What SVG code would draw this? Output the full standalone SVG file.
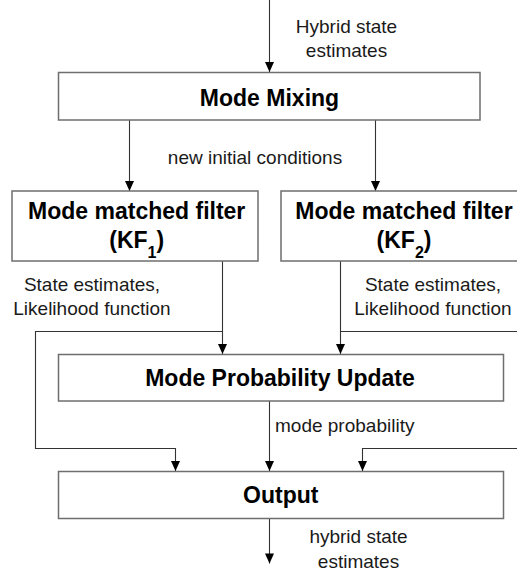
<svg xmlns="http://www.w3.org/2000/svg" width="517" height="572" viewBox="0 0 517 572">
<style>
.box{fill:#fff;stroke:#6e6e6e;stroke-width:1.5}
.ln{fill:none;stroke:#333;stroke-width:1.1}
.t{font-family:"Liberation Sans",Arial,sans-serif;font-size:19px;fill:#1a1a1a;text-anchor:middle}
.b{font-family:"Liberation Sans",Arial,sans-serif;font-size:23px;font-weight:bold;fill:#000;text-anchor:middle}
</style>
<defs>
<marker id="ah" markerUnits="userSpaceOnUse" markerWidth="12" markerHeight="12" refX="10" refY="0" orient="auto" overflow="visible">
<path d="M0,-4.5 L10,0 L0,4.5 z" fill="#000"/>
</marker>
</defs>
<g id="connectors">
<path class="ln" d="M269.5,0 V72" marker-end="url(#ah)"/>
<path class="ln" d="M129.5,120 V191" marker-end="url(#ah)"/>
<path class="ln" d="M375.5,120 V191" marker-end="url(#ah)"/>
<path class="ln" d="M222.5,261 V354" marker-end="url(#ah)"/>
<path class="ln" d="M340.5,261 V354" marker-end="url(#ah)"/>
<path class="ln" d="M222.5,331.5 H35.5 V448.5 H175.5 V471" marker-end="url(#ah)"/>
<path class="ln" d="M340.5,331.5 H530 V448.5 H362.5 V471" marker-end="url(#ah)"/>
<path class="ln" d="M269.5,401 V471" marker-end="url(#ah)"/>
<path class="ln" d="M269.5,518.5 V563.5" marker-end="url(#ah)"/>
<text class="t" x="346.5" y="32.7">Hybrid state</text>
<text class="t" x="346.5" y="57.3">estimates</text>
<text class="t" x="255" y="163.5">new initial conditions</text>
<text class="t" x="92" y="290.7">State estimates,</text>
<text class="t" x="92" y="315">Likelihood function</text>
<text class="t" x="433" y="290.7">State estimates,</text>
<text class="t" x="433" y="315">Likelihood function</text>
<text class="t" x="275" y="431.7" style="text-anchor:start">mode probability</text>
<text class="t" x="358.5" y="542.7">hybrid state</text>
<text class="t" x="358.5" y="568">estimates</text>
</g>
<g id="mixing">
<rect class="box" x="58.5" y="72.5" width="421.5" height="47.5"/>
<text class="b" x="269.5" y="106">Mode Mixing</text>
</g>
<g id="kf1">
<rect class="box" x="12" y="191" width="246" height="70"/>
<text class="b" x="136.7" y="219.3">Mode matched filter</text>
<text class="b" x="136.7" y="248.3">(KF<tspan font-size="16" dy="10">1</tspan><tspan dy="-10">)</tspan></text>
</g>
<g id="kf2">
<rect class="box" x="281" y="191" width="246" height="70"/>
<text class="b" x="404" y="219.3">Mode matched filter</text>
<text class="b" x="404" y="248.3">(KF<tspan font-size="16" dy="10">2</tspan><tspan dy="-10">)</tspan></text>
</g>
<g id="mpu">
<rect class="box" x="58.5" y="354.5" width="445" height="46.5"/>
<text class="b" x="280" y="386">Mode Probability Update</text>
</g>
<g id="output">
<rect class="box" x="58.5" y="471.5" width="445" height="47"/>
<text class="b" x="280.8" y="502.7">Output</text>
</g>
</svg>
